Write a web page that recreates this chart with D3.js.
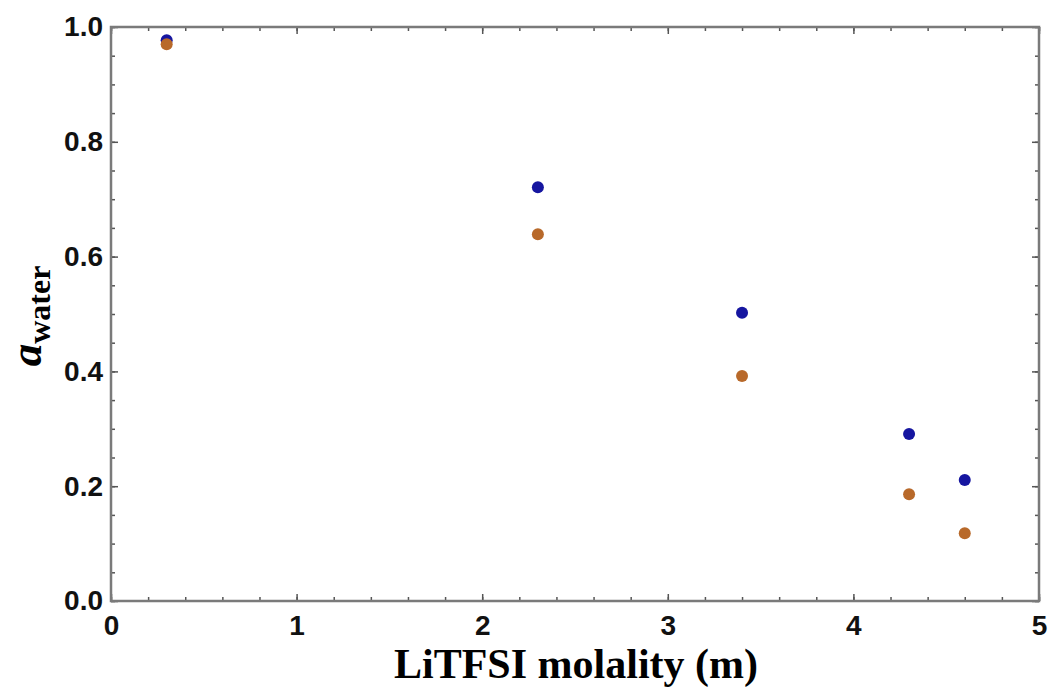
<!DOCTYPE html>
<html>
<head>
<meta charset="utf-8">
<script src="https://cdn.jsdelivr.net/npm/d3@7"></script>
<style>
  body { margin: 0; background: #fff; }
  .tick text { font-family: "Liberation Sans", Arial, sans-serif; font-weight: bold; font-size: 28px; fill: #111; }
</style>
</head>
<body>
<script>
'use strict';

// molality values (m)
const molality = [0.3, 2.3, 3.4, 4.3, 4.6];
// water activity, two series
const waterBlue = [0.977, 0.721, 0.502, 0.291, 0.211];
const waterOrange = [0.970, 0.639, 0.392, 0.186, 0.118];
const xTicks = [0, 1, 2, 3, 4, 5];
const yTicks = [0.0, 0.2, 0.4, 0.6, 0.8, 1.0];

const width = 1051, height = 693;
const margin = {left: 111, right: 12, top: 27, bottom: 92};

const svg = d3.select('body').append('svg')
  .attr('width', width)
  .attr('height', height);

const x = d3.scaleLinear().domain([0, 5]).range([margin.left, width - margin.right]);
const y = d3.scaleLinear().domain([0, 1]).range([height - margin.bottom, margin.top]);

const frameColor = '#7a7a7a';

// minor ticks (inward, all four sides)
const xMinor = d3.range(0, 5.001, 0.2);
const yMinor = d3.range(0, 1.001, 0.05);

function drawTicks(axisFn, scale, values, size, transform) {
  svg.append('g')
    .attr('transform', transform)
    .call(axisFn(scale).tickValues(values).tickSize(size).tickFormat(''))
    .call(g => g.select('.domain').remove())
    .call(g => g.selectAll('line').attr('stroke', '#555').attr('stroke-width', 1.5));
}
drawTicks(d3.axisTop, x, xMinor, 4, `translate(0,${y(0)})`);
drawTicks(d3.axisBottom, x, xMinor, 4, `translate(0,${y(1)})`);
drawTicks(d3.axisRight, y, yMinor, 4, `translate(${x(0)},0)`);
drawTicks(d3.axisLeft, y, yMinor, 4, `translate(${x(5)},0)`);
drawTicks(d3.axisTop, x, xTicks, 7, `translate(0,${y(0)})`);
drawTicks(d3.axisBottom, x, xTicks, 7, `translate(0,${y(1)})`);
drawTicks(d3.axisRight, y, yTicks, 7, `translate(${x(0)},0)`);
drawTicks(d3.axisLeft, y, yTicks, 7, `translate(${x(5)},0)`);

// tick labels
svg.append('g')
  .attr('transform', `translate(0,${y(0)})`)
  .call(d3.axisBottom(x).tickValues(xTicks).tickSize(0).tickFormat(d3.format('d')))
  .call(g => g.select('.domain').remove())
  .call(g => g.selectAll('text').attr('y', 34).attr('dy', 0));

svg.append('g')
  .attr('transform', `translate(${x(0)},0)`)
  .call(d3.axisLeft(y).tickValues(yTicks).tickSize(0).tickPadding(8).tickFormat(d3.format('.1f')))
  .call(g => g.select('.domain').remove());

// frame
svg.append('rect')
  .attr('x', x(0)).attr('y', y(1))
  .attr('width', x(5) - x(0)).attr('height', y(0) - y(1))
  .attr('fill', 'none')
  .attr('stroke', frameColor)
  .attr('stroke-width', 2.5);

// data points
const series = [
  {values: waterBlue, color: '#1616a0'},
  {values: waterOrange, color: '#b8692a'}
];
series.forEach(s => {
  svg.append('g').selectAll('circle')
    .data(molality)
    .enter()
    .append('circle')
    .attr('cx', d => x(d))
    .attr('cy', (d, i) => y(s.values[i]))
    .attr('r', 6)
    .attr('fill', s.color);
});

// axis titles
svg.append('text')
  .attr('x', 576)
  .attr('y', 678)
  .attr('text-anchor', 'middle')
  .style('font-family', '"Liberation Serif", "Times New Roman", serif')
  .style('font-weight', 'bold')
  .style('font-size', '42px')
  .text('LiTFSI molality (m)');

const yTitle = svg.append('text')
  .attr('transform', 'translate(41, 316)rotate(-90)')
  .attr('text-anchor', 'middle')
  .style('font-family', '"Liberation Serif", "Times New Roman", serif')
  .style('font-weight', 'bold');
yTitle.append('tspan')
  .style('font-style', 'italic')
  .style('font-size', '45px')
  .text('a');
yTitle.append('tspan')
  .attr('dy', 9)
  .style('font-size', '32px')
  .text('water');
</script>
</body>
</html>
